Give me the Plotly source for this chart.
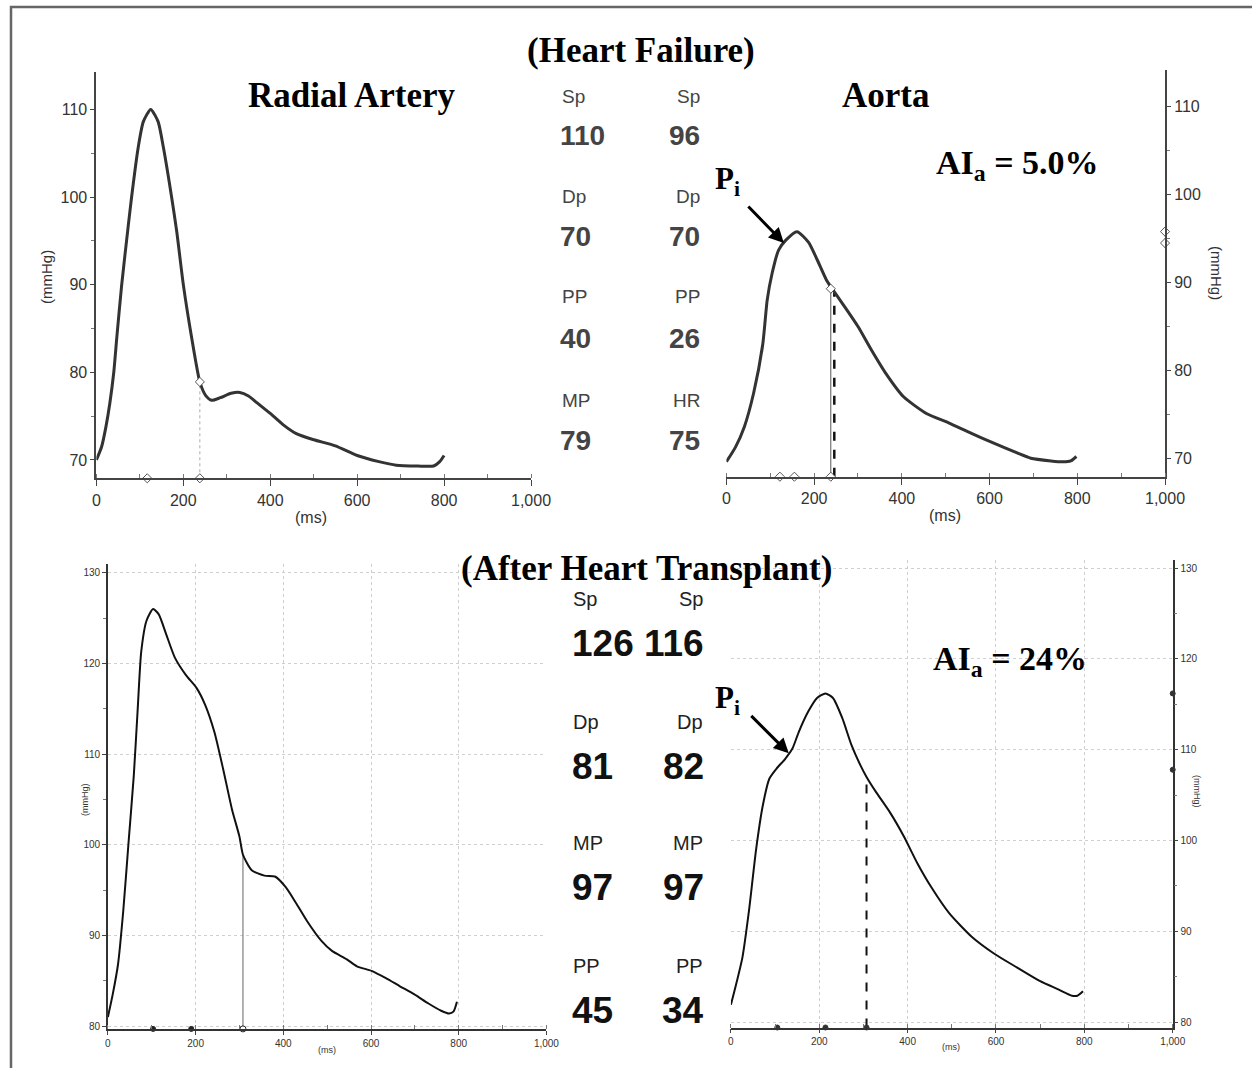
import plotly.graph_objects as go

W, H = 1252, 1068

# ---------------- data ----------------
# Heart failure - radial artery
hf_radial_t = [0, 12, 22, 31, 40, 47, 58, 73, 81, 96, 108, 125, 142, 154, 173, 185, 200, 219, 238,
               252, 265, 285, 310, 330, 350, 370, 400, 430, 460, 500, 550, 600, 650, 690, 740, 776, 790, 800]
hf_radial_p = [70, 71.5, 73.8, 76.5, 80, 84, 89.9, 96.6, 100.0, 105.6, 108.6, 110, 108.6, 105.7, 100.0, 96.0, 90.0, 84, 78.9,
               77.3, 76.8, 77.1, 77.6, 77.7, 77.3, 76.5, 75.3, 74, 73, 72.3, 71.6, 70.5, 69.8, 69.4, 69.3, 69.3, 69.8, 70.5]
hf_radial_marks_t = [117, 238]
hf_radial_reflect = [238, 78.9]

# Heart failure - aorta
hf_aorta_t = [0, 21, 41, 62, 83, 93, 104, 119, 135, 161, 187, 207, 228, 244, 269, 300, 331, 363, 404, 456, 508,
              560, 611, 663, 694, 740, 767, 785, 798]
hf_aorta_p = [69.6, 71.3, 73.6, 77.4, 83, 88, 91, 93.7, 94.8, 95.8, 94.6, 92.6, 90.3, 89.1, 87.3, 85, 82.3, 79.7, 77, 75.1, 74,
              72.8, 71.7, 70.6, 70, 69.7, 69.6, 69.7, 70.2]
hf_aorta_marks_t = [122, 155, 238]
hf_aorta_marks_p = [95.8, 94.5]
hf_aorta_reflect = [238, 89.3]
hf_aorta_dash = [246, 88.8]
hf_aorta_pi = [131, 94.5]

# After heart transplant - radial artery
ht_radial_t = [0, 11, 23, 35, 47, 59, 68, 76, 88, 103, 116, 133, 153, 178, 202, 222, 243, 263, 283, 300, 308, 328, 357,
               381, 406, 430, 454, 487, 511, 544, 568, 601, 634, 666, 699, 731, 760, 778, 788, 796]
ht_radial_p = [81.0, 83.5, 86.8, 92.7, 100.2, 107.6, 115, 121.3, 124.7, 126, 125.4, 123.2, 120.6, 118.7, 117.3, 115.4, 112.4,
               108.3, 103.9, 100.9, 98.9, 97.2, 96.6, 96.5, 95.3, 93.5, 91.6, 89.4, 88.3, 87.4, 86.6, 86.1, 85.3, 84.4,
               83.5, 82.5, 81.7, 81.4, 81.6, 82.7]
ht_radial_marks_t = [103, 190, 308]
ht_radial_reflect = [308, 98.9]

# After heart transplant - aorta
ht_aorta_t = [0, 10, 26, 41, 57, 72, 87, 103, 123, 139, 154, 175, 195, 214, 231, 252, 273, 293, 307, 329, 360, 391,
              422, 453, 494, 545, 597, 648, 700, 741, 772, 784, 797]
ht_aorta_p = [81.9, 83.8, 87.1, 92.3, 99, 103.8, 106.8, 107.9, 109, 110.1, 112, 114.2, 115.7, 116.2, 115.7, 113.5, 110.5,
              108.3, 107, 105.3, 103.1, 100.5, 97.5, 94.9, 92, 89.4, 87.5, 86, 84.5, 83.6, 82.9, 82.9, 83.4]
ht_aorta_marks_t = [105, 214, 307]
ht_aorta_marks_p = [116.2, 107.8]
ht_aorta_dash = [307, 107]
ht_aorta_pi = [131, 109.6]

# stats
hf_left_labels = ["Sp", "Dp", "PP", "MP"]
hf_left_values = ["110", "70", "40", "79"]
hf_right_labels = ["Sp", "Dp", "PP", "HR"]
hf_right_values = ["96", "70", "26", "75"]
ht_left_labels = ["Sp", "Dp", "MP", "PP"]
ht_left_values = ["126", "81", "97", "45"]
ht_right_labels = ["Sp", "Dp", "MP", "PP"]
ht_right_values = ["116", "82", "97", "34"]

x_tickvals = [0, 200, 400, 600, 800, 1000]
x_ticktext = ["0", "200", "400", "600", "800", "1,000"]
hf_y_tickvals = [70, 80, 90, 100, 110]
ht_y_tickvals = [80, 90, 100, 110, 120, 130]

# ---------------- helpers ----------------
def px(x):
    return x / W

def py(y):
    return 1 - y / H

SANS = "Liberation Sans, Arial, sans-serif"
SERIF = "Liberation Serif, Times New Roman, serif"

fig = go.Figure()

HF_YMIN = 67.9
HT_R_YMIN = 79.7
HT_A_YMIN = 79.4

def curve(t, p, xa, ya, color, width):
    fig.add_trace(go.Scatter(x=t, y=p, mode="lines", xaxis=xa, yaxis=ya,
                             line=dict(color=color, width=width, shape="spline", smoothing=0.6),
                             showlegend=False, hoverinfo="skip", cliponaxis=False))

def vline(t, top, ymin, xa, ya, color, width, dash="solid"):
    fig.add_trace(go.Scatter(x=[t, t], y=[ymin, top], mode="lines", xaxis=xa, yaxis=ya,
                             line=dict(color=color, width=width, dash=dash),
                             showlegend=False, hoverinfo="skip", cliponaxis=False))

def marks(xs, ys, xa, ya, symbol, size, fill, line):
    fig.add_trace(go.Scatter(x=xs, y=ys, mode="markers", xaxis=xa, yaxis=ya,
                             marker=dict(symbol=symbol, size=size, color=fill,
                                         line=dict(color=line, width=1)),
                             showlegend=False, hoverinfo="skip", cliponaxis=False))

# panel 1: HF radial
vline(hf_radial_reflect[0], hf_radial_reflect[1], HF_YMIN, "x", "y", "#aaa", 1, "dot")
curve(hf_radial_t, hf_radial_p, "x", "y", "#333", 3)
marks([hf_radial_reflect[0]], [hf_radial_reflect[1]], "x", "y", "diamond", 7, "white", "#555")
marks(hf_radial_marks_t, [HF_YMIN] * len(hf_radial_marks_t), "x", "y", "diamond", 7, "white", "#555")

# panel 2: HF aorta
vline(hf_aorta_reflect[0], hf_aorta_reflect[1], HF_YMIN, "x2", "y2", "#555", 1)
vline(hf_aorta_dash[0], hf_aorta_dash[1], HF_YMIN, "x2", "y2", "#111", 2.5, "dash")
curve(hf_aorta_t, hf_aorta_p, "x2", "y2", "#333", 3)
marks([hf_aorta_reflect[0]], [hf_aorta_reflect[1]], "x2", "y2", "diamond", 7, "white", "#555")
marks(hf_aorta_marks_t, [HF_YMIN] * len(hf_aorta_marks_t), "x2", "y2", "diamond", 7, "white", "#555")
marks([1000] * len(hf_aorta_marks_p), hf_aorta_marks_p, "x2", "y2", "diamond", 7, "white", "#555")

# panel 3: HT radial
vline(ht_radial_reflect[0], ht_radial_reflect[1], HT_R_YMIN, "x3", "y3", "#666", 1)
curve(ht_radial_t, ht_radial_p, "x3", "y3", "#111", 2)
marks(ht_radial_marks_t[:2], [HT_R_YMIN] * 2, "x3", "y3", "circle", 5, "#222", "#222")
marks(ht_radial_marks_t[2:], [HT_R_YMIN], "x3", "y3", "circle", 6, "white", "#222")

# panel 4: HT aorta
vline(ht_aorta_dash[0], ht_aorta_dash[1], HT_A_YMIN, "x4", "y4", "#111", 2, "dash")
curve(ht_aorta_t, ht_aorta_p, "x4", "y4", "#111", 2)
marks(ht_aorta_marks_t, [HT_A_YMIN] * len(ht_aorta_marks_t), "x4", "y4", "circle", 5, "#333", "#333")
marks([1000] * len(ht_aorta_marks_p), ht_aorta_marks_p, "x4", "y4", "circle", 5, "#333", "#333")

# ---------------- axes ----------------
def xaxis_def(x0, x1, anchor, fsize, big):
    return dict(domain=[px(x0), px(x1)], range=[0, 1000], anchor=anchor, automargin=False,
                showline=True, linecolor="#444" if big else "#333", linewidth=2 if big else 1.5,
                ticks="outside", ticklen=6 if big else 4, tickcolor="#444", tickwidth=1,
                tickmode="array", tickvals=x_tickvals, ticktext=x_ticktext,
                tickfont=dict(family=SANS, size=fsize, color="#333"),
                minor=dict(tickmode="linear", tick0=0, dtick=100, ticks="inside", ticklen=4, tickcolor="#777",
                           showgrid=False),
                showgrid=not big, gridcolor="#cfcfcf", griddash="dot", gridwidth=1,
                zeroline=False, fixedrange=True)

def yaxis_def(y0, y1, rng, anchor, side, tickvals, fsize, big):
    return dict(domain=[py(y0), py(y1)], range=rng, anchor=anchor, side=side, automargin=False,
                showline=True, linecolor="#444" if big else "#333", linewidth=2 if big else 1.5,
                ticks="outside", ticklen=4, tickcolor="#444", tickwidth=1,
                tickmode="array", tickvals=tickvals,
                tickfont=dict(family=SANS, size=fsize, color="#333"),
                minor=dict(tickmode="linear", tick0=0, dtick=5, ticks="outside", ticklen=3, tickcolor="#777",
                           showgrid=False),
                showgrid=not big, gridcolor="#cfcfcf", griddash="dot", gridwidth=1,
                zeroline=False, fixedrange=True)

fig.update_layout(
    xaxis=xaxis_def(96.4, 531, "y", 16, True),
    yaxis=yaxis_def(478.3, 71.7, [HF_YMIN, 114.3], "x", "left", hf_y_tickvals, 16, True),
    xaxis2=xaxis_def(726.4, 1165, "y2", 16, True),
    yaxis2=yaxis_def(476.7, 70, [HF_YMIN, 114.2], "x2", "right", hf_y_tickvals, 16, True),
    xaxis3=xaxis_def(107.9, 546.4, "y3", 10, False),
    yaxis3=yaxis_def(1028.9, 563.6, [HT_R_YMIN, 131], "x3", "left", ht_y_tickvals, 10, False),
    xaxis4=xaxis_def(730.9, 1172.7, "y4", 10, False),
    yaxis4=yaxis_def(1027.5, 560, [HT_A_YMIN, 130.9], "x4", "right", ht_y_tickvals, 10, False),
)

# ---------------- annotations ----------------
ann = []

def text(x, y, s, size, family=SERIF, color="black", bold=True, xanchor="center", angle=0):
    ann.append(dict(xref="paper", yref="paper", x=px(x), y=py(y), text=("<b>%s</b>" % s) if bold else s,
                    showarrow=False, xanchor=xanchor, yanchor="middle", textangle=angle,
                    font=dict(family=family, size=size, color=color)))

text(641, 50, "(Heart Failure)", 35)
text(352, 95, "Radial Artery", 35)
text(885, 95, "Aorta", 35)
text(1017, 165, "AI<sub>a</sub> = 5.0%", 34)
text(727, 181, "P<sub>i</sub>", 31)
text(646, 568, "(After Heart Transplant)", 35)
text(1010, 661, "AI<sub>a</sub> = 24%", 34)
text(727, 700, "P<sub>i</sub>", 31)

# axis titles
text(46, 277, "(mmHg)", 15, SANS, "#333", False, angle=-90)
text(1217, 273, "(mmHg)", 15, SANS, "#333", False, angle=90)
text(311, 517, "(ms)", 16, SANS, "#333", False)
text(945, 515, "(ms)", 16, SANS, "#333", False)
text(85, 799, "(mmHg)", 9, SANS, "#333", False, angle=-90)
text(1197, 791, "(mmHg)", 9, SANS, "#333", False, angle=90)
text(327, 1050, "(ms)", 9, SANS, "#333", False)
text(951, 1047, "(ms)", 9, SANS, "#333", False)

# stats - heart failure
hf_label_y = [96.7, 196.7, 296.7, 400]
hf_value_y = [135, 236.7, 338.3, 440]
for i in range(4):
    text(560, hf_label_y[i], hf_left_labels[i], 19, SANS, "#444", False, xanchor="left")
    text(702, hf_label_y[i], hf_right_labels[i], 19, SANS, "#444", False, xanchor="right")
    text(558, hf_value_y[i], hf_left_values[i], 28, SANS, "#444", True, xanchor="left")
    text(702, hf_value_y[i], hf_right_values[i], 28, SANS, "#444", True, xanchor="right")

# stats - heart transplant
ht_label_y = [599, 722, 843, 966]
ht_value_y = [643, 766, 887, 1010]
for i in range(4):
    text(571, ht_label_y[i], ht_left_labels[i], 20, SANS, "#222", False, xanchor="left")
    text(705, ht_label_y[i], ht_right_labels[i], 20, SANS, "#222", False, xanchor="right")
    text(570, ht_value_y[i], ht_left_values[i], 37, SANS, "#111", True, xanchor="left")
    text(706, ht_value_y[i], ht_right_values[i], 37, SANS, "#111", True, xanchor="right")

# arrows to inflection points
ann.append(dict(xref="x2", yref="y2", x=hf_aorta_pi[0], y=hf_aorta_pi[1], ax=-37, ay=-38, axref="pixel", ayref="pixel",
                showarrow=True, arrowhead=2, arrowsize=1, arrowwidth=3, arrowcolor="black", text=""))
ann.append(dict(xref="x4", yref="y4", x=ht_aorta_pi[0], y=ht_aorta_pi[1], ax=-39, ay=-39, axref="pixel", ayref="pixel",
                showarrow=True, arrowhead=2, arrowsize=1, arrowwidth=3, arrowcolor="black", text=""))

fig.update_layout(annotations=ann)

# outer frame
fig.add_shape(type="rect", xref="paper", yref="paper", x0=px(11), y0=py(7), x1=px(1262), y1=py(1080),
              line=dict(color="#666", width=2.5), fillcolor="rgba(0,0,0,0)", layer="below")

fig.update_layout(width=W, height=H, margin=dict(l=0, r=0, t=0, b=0, autoexpand=False),
                  paper_bgcolor="white", plot_bgcolor="white", showlegend=False)

fig.write_html("out.html")
